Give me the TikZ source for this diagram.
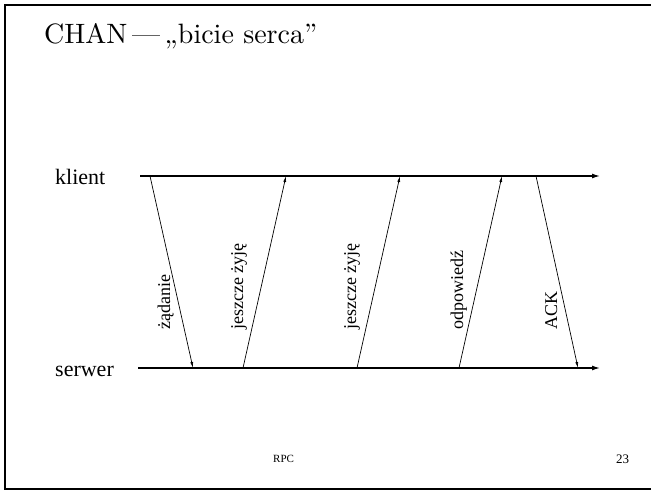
\documentclass[tikz,border=0pt]{standalone}
\usepackage{fontspec}
\newfontfamily\tnrfont{Liberation Serif}
\newfontfamily\titlefont{lmroman10-regular}[Extension = .otf, Ligatures = TeX]
\usetikzlibrary{arrows.meta}

\tikzset{
    timeline/.style = {line width = 1.3pt, -{Latex[length = 8pt, width = 5pt]}},
    msg/.style = {line width = 0.7pt, -{Latex[length = 6pt, width = 3pt]}},
    msglabel/.style = {rotate = 90, anchor = base west, inner sep = 0pt, font = \tnrfont\fontsize{18}{20}\selectfont},
    sidelabel/.style = {anchor = base west, inner sep = 0pt, font = \tnrfont\fontsize{22}{24}\selectfont},
}

\begin{document}
\begin{tikzpicture}[x = 1pt, y = -1pt]
%\draw [help lines, step = 50] (0,0) grid (651,490);
    \useasboundingbox (0,0) rectangle (651,490);
    \draw [line width = 2pt] (651,4.5) -- (5,4.5) -- (5,489) -- (651,489);
    \node [anchor = base west, inner sep = 0pt, font = \titlefont\fontsize{28}{32}\selectfont] (title) at (44,43) {CHAN\,—\,„bicie serca”};

    \node [sidelabel] (klient) at (55,184) {klient};
    \node [sidelabel] (serwer) at (55,376) {serwer};
    \coordinate (kstart) at (140,176);
    \coordinate (kend) at (600,176);
    \coordinate (sstart) at (138,368);
    \coordinate (send) at (600,368);
    \draw [timeline] (kstart) -- (kend);
    \draw [timeline] (sstart) -- (send);

    % komunikaty
    \coordinate (k1) at (150,176);
    \coordinate (s1) at (193,368);
    \coordinate (s2) at (243,368);
    \coordinate (k2) at (286,176);
    \coordinate (s3) at (357,368);
    \coordinate (k3) at (400,176);
    \coordinate (s4) at (459,368);
    \coordinate (k4) at (502,176);
    \coordinate (k5) at (536,176);
    \coordinate (s5) at (578,368);
    \draw [msg] (k1) -- (s1);
    \draw [msg] (s2) -- (k2);
    \draw [msg] (s3) -- (k3);
    \draw [msg] (s4) -- (k4);
    \draw [msg] (k5) -- (s5);

    \node [msglabel] (zadanie) at (170,330) {żądanie};
    \node [msglabel] (zyje1) at (243,330) {jeszcze żyję};
    \node [msglabel] (zyje2) at (356,330) {jeszcze żyję};
    \node [msglabel] (odp) at (463,330) {odpowiedź};
    \node [msglabel] (ack) at (557,330) {ACK};

    \node [anchor = base west, inner sep = 0pt, font = \tnrfont\fontsize{11}{13}\selectfont] (footer) at (273,462) {RPC};
    \node [anchor = base west, inner sep = 0pt, font = \tnrfont\fontsize{13}{15}\selectfont] (page) at (616,463) {23};
\end{tikzpicture}
\end{document}
